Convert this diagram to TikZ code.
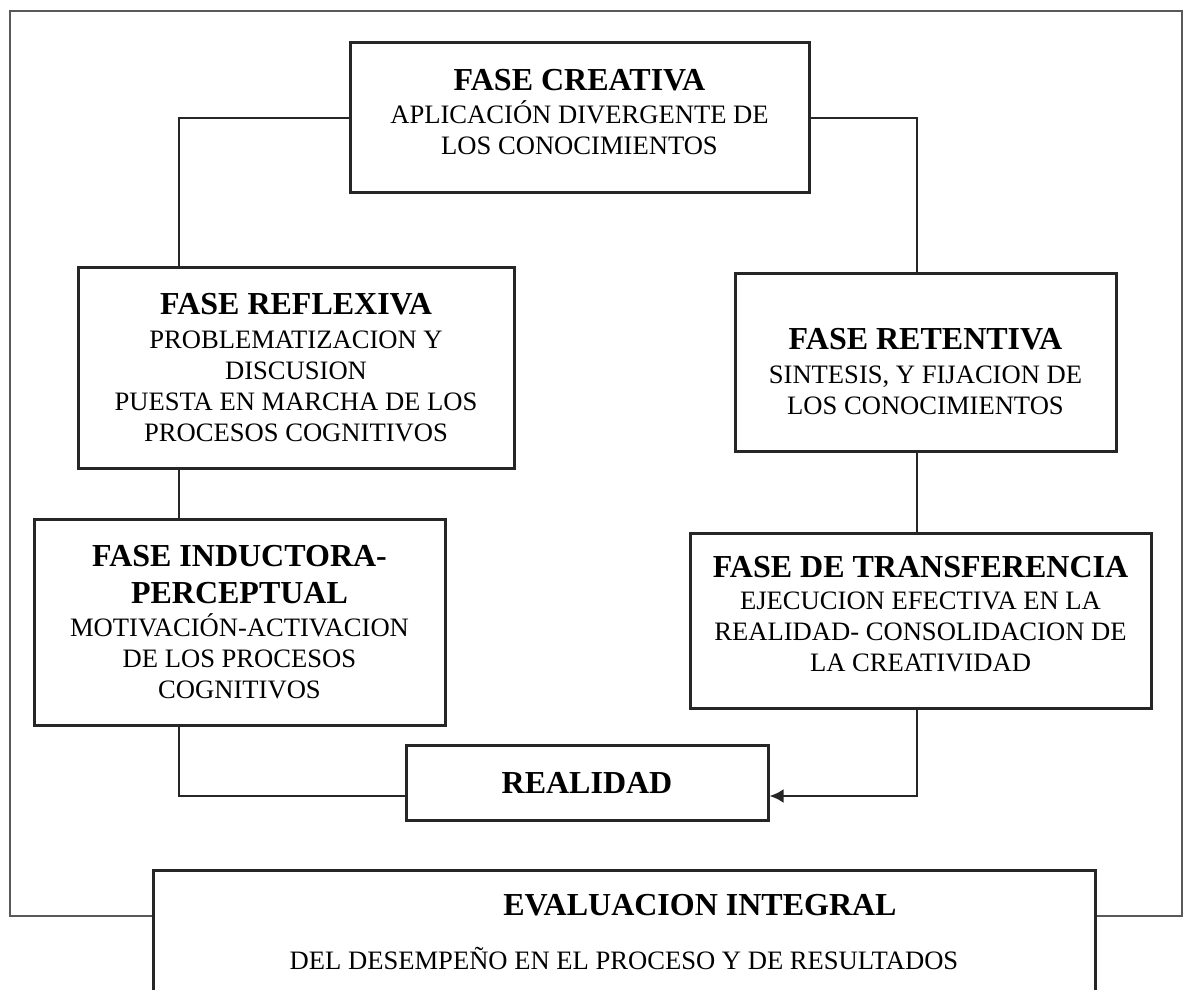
\documentclass[tikz,border=0pt]{standalone}
\usepackage{fontspec}
\setmainfont{Liberation Serif}
\usepackage{tikz}
\usetikzlibrary{
	arrows.meta,
}

\newcommand{\fasetit}[1]{{\fontsize{16}{18}\selectfont\bfseries #1}}

\begin{document}
\begin{tikzpicture}[x=0.5pt, y=-0.5pt,
            fase/.style={draw=black!85, line width=1.5pt, fill=white, align=center, inner sep=0pt,
                         font=\fontsize{13.3}{15.5}\selectfont},
            enlace/.style={draw=black!85, line width=1.4pt},
            marco/.style={draw=black!65, line width=1pt}]
            \clip (0,0) rectangle (1184,990);

            \draw[marco] (10,11) rectangle (1182,916);

            \node[fase, minimum width=229.5pt, minimum height=75pt] (creativa) at (579.5,118)
                {\fasetit{FASE CREATIVA}\\[1pt] APLICACIÓN DIVERGENTE DE\\ LOS CONOCIMIENTOS\rule[-6pt]{0pt}{0pt}};
            \node[fase, minimum width=218pt, minimum height=100.5pt] (reflexiva) at (296,367.5)
                {\fasetit{FASE REFLEXIVA}\\[1.5pt] PROBLEMATIZACION Y\\ DISCUSION\\ PUESTA EN MARCHA DE LOS\\ PROCESOS COGNITIVOS};
            \node[fase, minimum width=190.5pt, minimum height=89pt] (retentiva) at (925.5,362)
                {\rule{0pt}{20pt}\fasetit{FASE RETENTIVA}\\[1.5pt] SINTESIS, Y FIJACION DE\\ LOS CONOCIMIENTOS};
            \node[fase, minimum width=205.5pt, minimum height=103pt] (inductora) at (239.5,622)
                {\fasetit{FASE INDUCTORA-}\\[3pt] \fasetit{PERCEPTUAL}\\[1pt] MOTIVACIÓN-ACTIVACION\\ DE LOS PROCESOS\\ COGNITIVOS};
            \node[fase, minimum width=230.5pt, minimum height=87.5pt] (transferencia) at (920.5,620.5)
                {\fasetit{FASE DE TRANSFERENCIA}\\[0.5pt] EJECUCION EFECTIVA EN LA\\ REALIDAD- CONSOLIDACION DE\\ LA CREATIVIDAD\rule[-7pt]{0pt}{0pt}};
            \node[fase, minimum width=181pt, minimum height=37.5pt] (realidad) at (587,782.5)
                {\fasetit{REALIDAD}};
            \node[fase, minimum width=471pt, minimum height=62pt] (evaluacion) at (624,932)
                {\hspace*{76pt}\fasetit{EVALUACION INTEGRAL}\\[11.5pt] DEL DESEMPEÑO EN EL PROCESO Y DE RESULTADOS};

            \coordinate (izq) at (179,0);
            \coordinate (der) at (917,0);
            \coordinate (base) at (0,796);

            \draw[enlace] (creativa.west) -| (izq |- reflexiva.north);
            \draw[enlace] (creativa.east) -| (der |- retentiva.north);
            \draw[enlace] (izq |- reflexiva.south) -- (izq |- inductora.north);
            \draw[enlace] (der |- retentiva.south) -- (der |- transferencia.north);
            \draw[enlace] (izq |- inductora.south) |- (realidad.west |- base);
            \draw[enlace, -{Latex[length=7pt, width=7pt]}] (der |- transferencia.south) |- (realidad.east |- base);
\end{tikzpicture}
\end{document}
